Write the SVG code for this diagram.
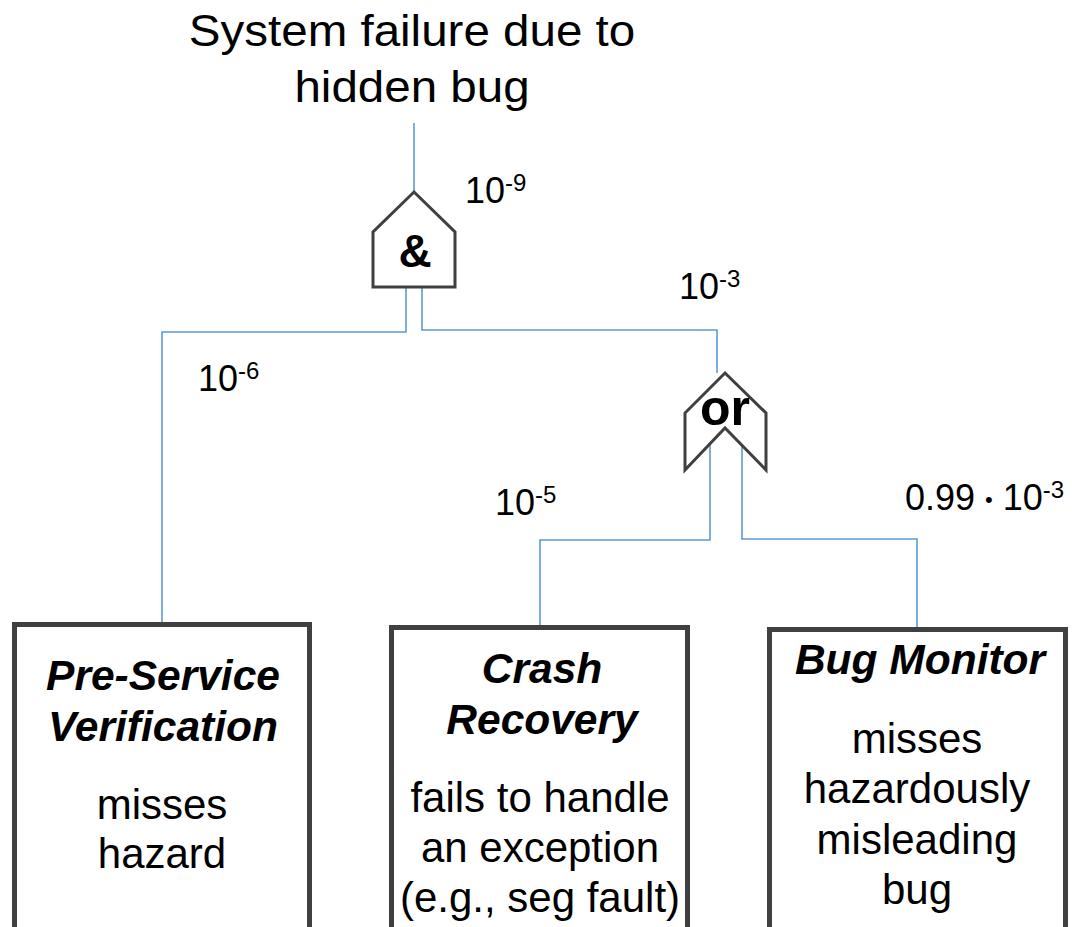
<svg xmlns="http://www.w3.org/2000/svg" width="1072" height="927" viewBox="0 0 1072 927">
  <style>
    text { font-family: "Liberation Sans", Arial, sans-serif; fill: #000; text-anchor: middle; }
    .title { font-size: 44px; }
    .num { font-size: 36px; text-anchor: start; }
    .sup { font-size: 24px; }
    .head { font-size: 42.5px; font-weight: bold; font-style: italic; }
    .body { font-size: 42px; }
    .gate { fill: #fff; stroke: #404040; stroke-width: 3; stroke-linejoin: miter; }
    .gatelbl { font-weight: bold; }
    .box { fill: #fff; stroke: #404040; stroke-width: 5; }
    .wire { fill: none; stroke: #5b9bd5; stroke-width: 1.6; }
  </style>
  <rect width="1072" height="927" fill="#fff"/>

  <!-- connectors -->
  <g id="connectors">
    <path class="wire" d="M414 123 V192"/>
    <path class="wire" d="M406 287 V332 H162 V624"/>
    <path class="wire" d="M422 287 V330 H717 V373"/>
    <path class="wire" d="M710 444 V540 H540 V627"/>
    <path class="wire" d="M742 445 V539 H917 V629"/>
  </g>

  <!-- top event -->
  <g id="top-event">
    <text class="title" transform="translate(412,46) scale(1.08,1)">System failure due to</text>
    <text class="title" transform="translate(412,102) scale(1.08,1)">hidden bug</text>
  </g>

  <!-- AND gate -->
  <g id="and-gate">
    <polygon class="gate" points="414,192 455,232 455,287 373,287 373,232"/>
    <text class="gatelbl" x="415" y="267" font-size="46">&amp;</text>
  </g>

  <!-- OR gate -->
  <g id="or-gate">
    <polygon class="gate" points="725,373 766,413 766,470 725,428 685,470 685,413"/>
    <text class="gatelbl" x="725" y="425" font-size="50">or</text>
  </g>

  <!-- probability labels -->
  <g id="probabilities">
    <text class="num" x="465" y="203">10<tspan class="sup" dy="-12">-9</tspan></text>
    <text class="num" x="679" y="299">10<tspan class="sup" dy="-12">-3</tspan></text>
    <text class="num" x="198" y="391">10<tspan class="sup" dy="-12">-6</tspan></text>
    <text class="num" x="495" y="515">10<tspan class="sup" dy="-12">-5</tspan></text>
    <text class="num" x="905" y="510">0.99 <tspan font-size="22" dy="-3">•</tspan><tspan dy="3"> 10</tspan><tspan class="sup" dy="-12">-3</tspan></text>
  </g>

  <!-- basic event: pre-service verification -->
  <g id="pre-service-verification">
    <rect class="box" x="14.5" y="624.5" width="295" height="320"/>
    <text class="head" x="163" y="690">Pre-Service</text>
    <text class="head" x="163" y="741">Verification</text>
    <text class="body" x="162" y="819">misses</text>
    <text class="body" x="162" y="868">hazard</text>
  </g>

  <!-- basic event: crash recovery -->
  <g id="crash-recovery">
    <rect class="box" x="391.5" y="627.5" width="296" height="320"/>
    <text class="head" x="542" y="683">Crash</text>
    <text class="head" x="542" y="734">Recovery</text>
    <text class="body" x="540" y="812">fails to handle</text>
    <text class="body" x="540" y="862">an exception</text>
    <text class="body" x="540" y="912">(e.g., seg fault)</text>
  </g>

  <!-- basic event: bug monitor -->
  <g id="bug-monitor">
    <rect class="box" x="769.5" y="629.5" width="296" height="320"/>
    <text class="head" x="920" y="674">Bug Monitor</text>
    <text class="body" x="917" y="753">misses</text>
    <text class="body" x="917" y="803">hazardously</text>
    <text class="body" x="917" y="854">misleading</text>
    <text class="body" x="917" y="904">bug</text>
  </g>
</svg>
